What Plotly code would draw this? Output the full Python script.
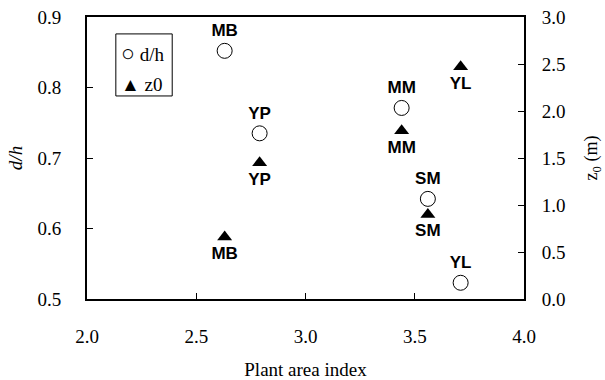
import plotly.graph_objects as go

sites = ["MB", "YP", "MM", "SM", "YL"]
pai = [2.63, 2.79, 3.44, 3.56, 3.71]
dh = [0.852, 0.735, 0.771, 0.642, 0.523]
z0 = [0.66, 1.45, 1.79, 0.90, 2.47]
legend_names = ["d/h", "z0"]

serif = "Liberation Serif"
sans = "Liberation Sans"

fig = go.Figure()
fig.add_trace(go.Scatter(
    x=pai, y=dh, name=legend_names[0], mode="markers+text",
    text=[f"<b>{s}</b>" for s in sites], textposition="top center",
    textfont=dict(family=sans, size=17, color="black"),
    marker=dict(symbol="circle", size=15, color="white", line=dict(color="black", width=1)),
))
fig.add_trace(go.Scatter(
    x=pai, y=z0, name=legend_names[1], mode="markers+text", yaxis="y2",
    text=[f"<b>{s}</b>" for s in sites], textposition="bottom center",
    textfont=dict(family=sans, size=17, color="black"),
    marker=dict(symbol="triangle-up", size=13, color="black", line=dict(color="black", width=0)),
))

def axis_common():
    return dict(showgrid=False, zeroline=False, showline=True, linecolor="black", linewidth=2,
                ticks="inside", ticklen=6, tickcolor="black", tickwidth=1, automargin=False,
                tickfont=dict(family=serif, size=19, color="black"))

# legend box drawn as shape + text annotations
fig.add_shape(type="rect", xref="paper", yref="paper", x0=0.066, x1=0.195, y0=0.72, y1=0.94,
              line=dict(color="black", width=1), fillcolor="white", layer="above")
fig.add_annotation(xref="paper", yref="paper", x=0.073, y=0.872, xanchor="left", yanchor="middle",
                   showarrow=False,
                   text="<span style='font-size:23px'>\u25CB</span> " + legend_names[0],
                   font=dict(family=serif, size=19, color="black"))
fig.add_annotation(xref="paper", yref="paper", x=0.073, y=0.759, xanchor="left", yanchor="middle",
                   showarrow=False, text="\u25B2 " + legend_names[1],
                   font=dict(family=serif, size=19, color="black"))

fig.update_layout(
    width=605, height=380,
    margin=dict(l=87, r=81, t=17, b=81, autoexpand=False),
    paper_bgcolor="white", plot_bgcolor="white",
    font=dict(family=serif, size=19, color="black"),
    showlegend=False,
    xaxis=dict(range=[2.0, 4.0], dtick=0.5, tickformat=".1f", mirror=True,
               ticklabelstandoff=19,
               title=dict(text="Plant area index", font=dict(family=serif, size=19, color="black"), standoff=17),
               **axis_common()),
    yaxis=dict(range=[0.5, 0.9], dtick=0.1, tickformat=".1f", ticklabelstandoff=20,
               title=dict(text="<i>d/h</i>", font=dict(family=serif, size=19, color="black"), standoff=10),
               **axis_common()),
    yaxis2=dict(range=[0, 3.0], dtick=0.5, tickformat=".1f", overlaying="y", side="right",
                ticklabelstandoff=12,
                title=dict(text="z<sub>0</sub> (m)", font=dict(family=serif, size=18, color="black"), standoff=20),
                **axis_common()),
)

fig.write_html("out.html")
